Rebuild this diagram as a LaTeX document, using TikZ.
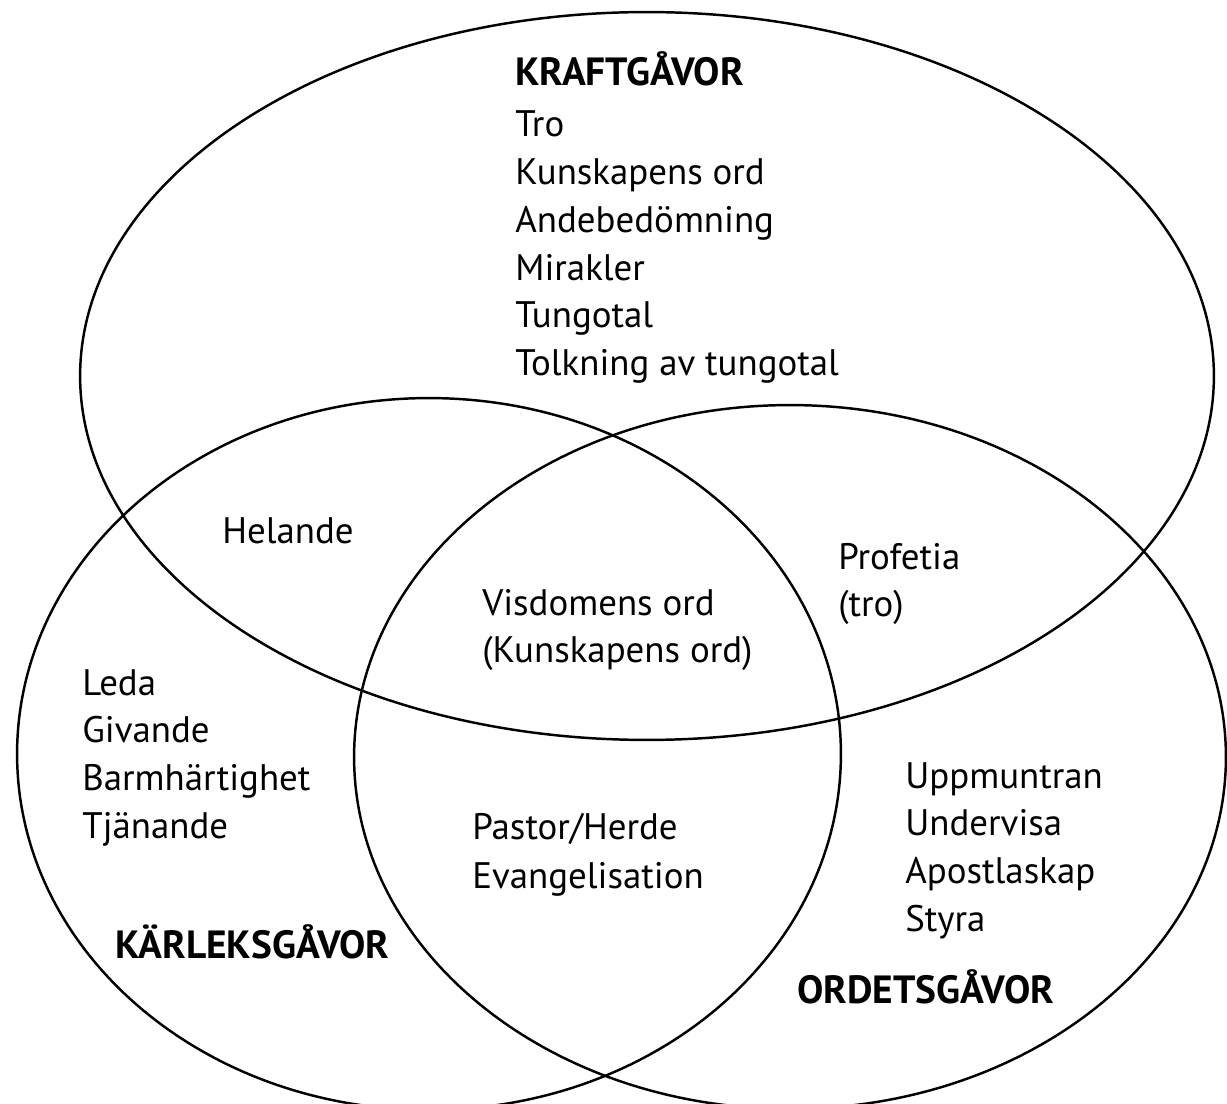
\documentclass[tikz,border=0pt]{standalone}
\usepackage{fontspec}
\setmainfont{PT Sans}
\usetikzlibrary{positioning}

\tikzset{
  gift/.style={inner sep=0pt, font=\fontsize{21}{25}\selectfont, text height=20pt, text depth=6.75pt},
  head/.style={inner sep=0pt, font=\fontsize{22.4}{26}\selectfont\bfseries},
  set/.style={line width=1.4pt}
}

\begin{document}
\begin{tikzpicture}[x=0.02cm, y=-0.02cm]
  \useasboundingbox (0,0) rectangle (1227,1104);

  % the three sets
  \draw [set] (647,376) ellipse [x radius=11.34cm, y radius=7.28cm];
  \draw [set] (429,754) ellipse [x radius=8.24cm, y radius=7.12cm];
  \draw [set] (790,757) ellipse [x radius=8.72cm, y radius=7.04cm];

  % KRAFTGAVOR
  \node (hkraft) [head, anchor=base west] at (515,86) {KRAFTGÅVOR};
  \node (kTro) [gift, anchor=base west] at (515,137) {Tro};
  \node (kKunskap) [gift, below=0pt of kTro.south west, anchor=north west] {Kunskapens ord};
  \node (kAnde) [gift, below=0pt of kKunskap.south west, anchor=north west] {Andebedömning};
  \node (kMirakler) [gift, below=0pt of kAnde.south west, anchor=north west] {Mirakler};
  \node (kTungotal) [gift, below=0pt of kMirakler.south west, anchor=north west] {Tungotal};
  \node (kTolkning) [gift, below=0pt of kTungotal.south west, anchor=north west] {Tolkning av tungotal};

  % overlaps
  \node (iHelande) [gift, anchor=base west] at (222,543) {Helande};
  \node (iVisdom) [gift, anchor=base west] at (482,615) {Visdomens ord};
  \node (iKunskap) [gift, below=0pt of iVisdom.south west, anchor=north west] {(Kunskapens ord)};
  \node (iProfetia) [gift, anchor=base west] at (838,569) {Profetia};
  \node (iTro) [gift, below=0pt of iProfetia.south west, anchor=north west] {(tro)};
  \node (iPastor) [gift, anchor=base west] at (472,839) {Pastor/Herde};
  \node (iEvang) [gift, below=1pt of iPastor.south west, anchor=north west] {Evangelisation};

  % KARLEKSGAVOR
  \node (lLeda) [gift, anchor=base west] at (82,695) {Leda};
  \node (lGivande) [gift, below=0pt of lLeda.south west, anchor=north west] {Givande};
  \node (lBarm) [gift, below=0pt of lGivande.south west, anchor=north west] {Barmhärtighet};
  \node (lTjan) [gift, below=0pt of lBarm.south west, anchor=north west] {Tjänande};
  \node (hkarlek) [head, anchor=base west] at (115,958) {KÄRLEKSGÅVOR};

  % ORDETSGAVOR
  \node (oUpp) [gift, anchor=base west] at (905,788) {Uppmuntran};
  \node (oUnder) [gift, below=0pt of oUpp.south west, anchor=north west] {Undervisa};
  \node (oApostel) [gift, below=0pt of oUnder.south west, anchor=north west] {Apostlaskap};
  \node (oStyra) [gift, below=0pt of oApostel.south west, anchor=north west] {Styra};
  \node (hordet) [head, anchor=base west] at (797,1003) {ORDETSGÅVOR};
\end{tikzpicture}
\end{document}
